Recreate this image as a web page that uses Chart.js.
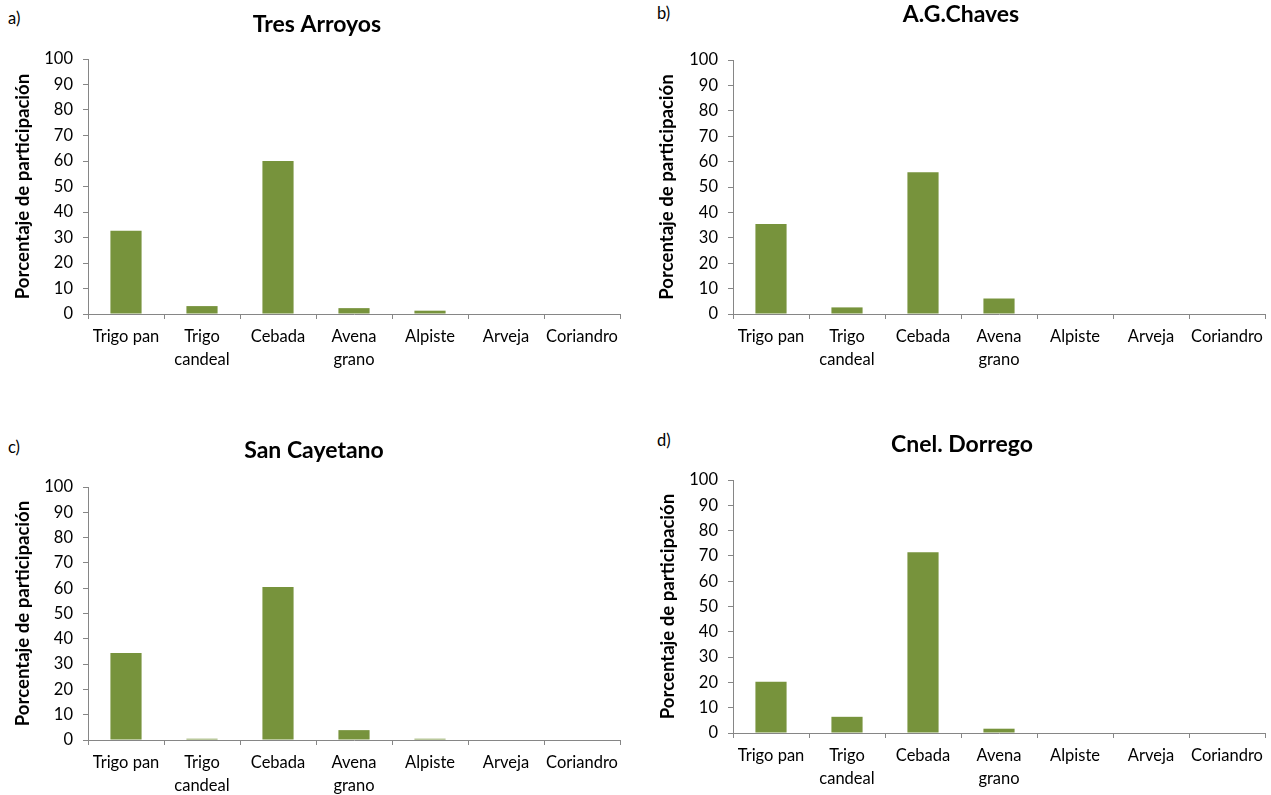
<!DOCTYPE html>
<html>
<head>
<meta charset="utf-8">
<script src="https://cdn.jsdelivr.net/npm/chart.js@4.4.0/dist/chart.umd.min.js"></script>
<style>
  html, body { margin:0; padding:0; background:#fff; }
  body { width:1271px; height:795px; position:relative; overflow:hidden; font-family: Lato, "Open Sans", sans-serif; }
  .box { position:absolute; }
  .lbl { position:absolute; font-size:16.5px; line-height:20px; color:#000; }
</style>
</head>
<body>
<div class="lbl" style="left:8px; top:8px;">a)</div>
<div class="lbl" style="left:657px; top:3px;">b)</div>
<div class="lbl" style="left:8px; top:437px;">c)</div>
<div class="lbl" style="left:657px; top:430px;">d)</div>

<div class="box" style="left:14px; top:0px; width:626px; height:397px;"><canvas id="cA"></canvas></div>
<div class="box" style="left:657px; top:0px; width:614px; height:397px;"><canvas id="cB"></canvas></div>
<div class="box" style="left:8px; top:426px; width:632px; height:369px;"><canvas id="cC"></canvas></div>
<div class="box" style="left:659px; top:420px; width:612px; height:375px;"><canvas id="cD"></canvas></div>

<script>
// ---- data ----
const categories = [['Trigo pan'], ['Trigo', 'candeal'], ['Cebada'], ['Avena', 'grano'], ['Alpiste'], ['Arveja'], ['Coriandro']];
const tresArroyos = [32.6, 3.1, 60.0, 2.3, 1.3, 0.2, 0.2];
const agChaves    = [35.4, 2.6, 55.8, 6.1, 0, 0, 0];
const sanCayetano = [34.4, 0.5, 60.5, 3.9, 0.5, 0, 0];
const cnelDorrego = [20.3, 6.4, 71.4, 1.7, 0, 0, 0];
const chartTitles = ['Tres Arroyos', 'A.G.Chaves', 'San Cayetano', 'Cnel. Dorrego'];
const yAxisTitle = 'Porcentaje de participación';

const FONT = 'Lato';
const AXIS = '#868686';
const BAR = '#77933C';

function makeChart(id, title, values, cfg) {
  const el = document.getElementById(id);
  const parent = el.parentElement;
  el.width = parent.clientWidth; el.height = parent.clientHeight;
  return new Chart(el, {
    type: 'bar',
    data: { labels: categories, datasets: [{ data: values, backgroundColor: BAR, borderWidth: 0,
      barPercentage: 0.41, categoryPercentage: 1.0 }] },
    options: {
      responsive: false, animation: false, maintainAspectRatio: false,
      layout: { padding: { left: 0, right: cfg.padRight, top: 0, bottom: 0 } },
      plugins: {
        legend: { display: false }, tooltip: { enabled: false },
        title: { display: true, text: title, color: '#000',
          font: { family: FONT, size: 23, weight: 'bold', lineHeight: 1.2 },
          padding: { top: cfg.titleTop, bottom: cfg.titleBottom } }
      },
      scales: {
        x: {
          grid: { display: true, offset: true, drawOnChartArea: false, drawTicks: true, tickLength: 5, color: AXIS },
          border: { display: true, color: AXIS, width: 1 },
          ticks: { color: '#000', font: { family: FONT, size: 16.5, lineHeight: 1.4 }, padding: 6.5, maxRotation: 0, autoSkip: false },
          afterFit: (s) => { s.height = cfg.xHeight; }
        },
        y: {
          min: 0, max: 100,
          grid: { display: true, drawOnChartArea: false, drawTicks: true, tickLength: 5, color: AXIS },
          border: { display: true, color: AXIS, width: 1 },
          ticks: { stepSize: 10, color: '#000', font: { family: FONT, size: 16.5 }, padding: 10 },
          title: { display: true, text: yAxisTitle, color: '#000',
            font: { family: FONT, size: 18.6, weight: 'bold', lineHeight: 1.0 },
            padding: { top: cfg.yTitlePad, bottom: 0 } },
          afterFit: (s) => { s.width = cfg.yWidth; }
        }
      }
    }
  });
}

makeChart('cA', chartTitles[0], tresArroyos, { padRight: 20, titleTop: 11, titleBottom: 20.4, xHeight: 83, yWidth: 74, yTitlePad: 0 });
makeChart('cB', chartTitles[1], agChaves,    { padRight: 6,  titleTop: 1.2, titleBottom: 31.2, xHeight: 83, yWidth: 76, yTitlePad: 1 });
makeChart('cC', chartTitles[2], sanCayetano, { padRight: 20, titleTop: 11.2, titleBottom: 22.2, xHeight: 55, yWidth: 80, yTitlePad: 5.7 });
makeChart('cD', chartTitles[3], cnelDorrego, { padRight: 6,  titleTop: 11.2, titleBottom: 21.2, xHeight: 62, yWidth: 74, yTitlePad: 0 });
</script>
</body>
</html>
